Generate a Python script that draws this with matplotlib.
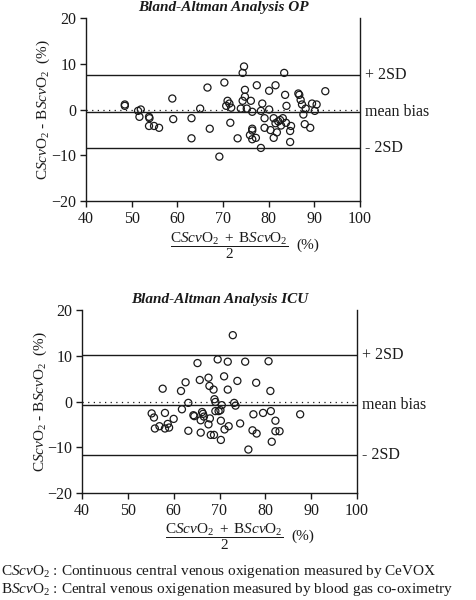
import matplotlib
matplotlib.use("Agg")
import matplotlib.pyplot as plt

plt.rcParams['font.family'] = ['Liberation Serif', 'DejaVu Serif']
plt.rcParams['mathtext.fontset'] = 'custom'
plt.rcParams['mathtext.rm'] = 'Liberation Serif'
plt.rcParams['mathtext.it'] = 'Liberation Serif:italic'
plt.rcParams['mathtext.bf'] = 'Liberation Serif:bold'

# ---- Data: OP ----
op_mean = [48.5, 48.5, 51.4, 52.0, 51.7, 53.8, 53.9, 53.8, 54.9, 56.0,
           58.9, 59.1, 63.1, 63.1, 65.0, 66.6, 67.1, 70.3, 69.2, 71.0,
           71.4, 70.7, 71.8, 71.6, 73.2, 73.9, 74.3, 74.6, 74.3, 74.8,
           74.8, 75.2, 76.1, 76.4, 76.4, 76.4, 75.9, 76.4, 77.2, 77.4,
           78.6, 78.3, 78.3, 79.1, 79.1, 80.1, 80.1, 80.4, 81.1, 81.1,
           81.5, 81.5, 81.8, 82.1, 82.5, 82.7, 83.1, 83.4, 83.6, 83.9,
           83.8, 84.7, 84.9, 84.7, 86.5, 86.7, 87.0, 87.3, 87.6, 87.9,
           88.1, 89.1, 89.5, 90.1, 90.5, 92.4]
op_diff = [1.1, 0.8, -0.3, 0.0, -1.6, -1.6, -1.9, -3.6, -3.6, -4.0,
           2.4, -2.1, -1.9, -6.3, 0.2, 4.8, -4.2, 5.9, -10.3, 1.9,
           1.3, 0.8, 0.4, -2.9, -6.3, 0.2, 1.9, 9.4, 8.0, 4.3,
           2.8, 0.2, 1.9, -0.5, -4.2, -4.6, -5.6, -6.5, -6.2, 5.3,
           1.3, -0.3, -8.4, -1.9, -4.0, 4.1, 0.0, -4.5, -1.9, -6.2,
           5.3, -3.0, -5.0, -2.6, -2.3, -3.5, -1.9, 8.0, 3.2, 0.8,
           -2.9, -4.7, -3.6, -7.1, 3.5, 3.2, 2.1, 1.1, -1.1, -3.2,
           0.2, -4.0, 1.3, -0.3, 1.1, 4.0]
op_lines = [7.5, -0.55, -8.4]

# ---- Data: ICU ----
icu_mean = [55.2, 55.7, 55.9, 56.9, 57.6, 58.1, 58.1, 58.7, 59.0, 60.0,
            61.6, 61.8, 62.6, 63.2, 63.2, 64.3, 64.5, 65.2, 65.7, 66.2,
            66.4, 65.9, 66.6, 65.9, 67.6, 67.8, 67.9, 67.6, 68.7, 68.9,
            69.1, 69.1, 68.1, 68.8, 69.6, 69.8, 70.2, 70.3, 70.3, 70.5,
            71.0, 71.1, 71.8, 71.8, 72.0, 72.9, 73.2, 73.5, 73.9, 74.5,
            75.6, 76.3, 77.2, 77.4, 78.0, 78.1, 79.5, 80.7, 81.1, 81.2,
            81.4, 82.2, 82.2, 83.1, 87.6]
icu_diff = [-2.6, -3.5, -5.9, -5.4, 2.8, -2.5, -5.9, -4.9, -5.7, -3.8,
            2.3, -1.7, 4.2, -0.3, -6.4, -3.0, -3.2, 8.4, 4.7, -2.3,
            -2.7, -4.1, -3.3, -6.8, 5.2, 3.4, -3.7, -5.0, 2.6, 0.5,
            -0.1, -2.1, -7.3, -7.3, 9.2, -2.1, -1.9, -4.2, -8.4, -0.8,
            5.5, -6.1, 8.7, 2.6, -5.4, 14.5, -0.3, -0.9, 4.5, -4.8,
            8.7, -10.5, -6.3, -2.8, 4.1, -7.0, -2.5, 8.8, 2.3, -2.1,
            -8.8, -4.2, -6.5, -6.5, -2.8]
icu_lines = [10.2, -0.8, -11.6]

line_labels = ['+ 2SD', 'mean bias', '- 2SD']
x_ticks = [40, 50, 60, 70, 80, 90, 100]
y_ticks = [-20, -10, 0, 10, 20]

W, H = 476, 600
fig = plt.figure(figsize=(W / 100, H / 100), dpi=100)
col = '#1a1a1a'

ylab = r'C$\mathit{Scv}$O$_2$ - B$\mathit{Scv}$O$_2$  (%)'
frac = r'$\dfrac{\mathrm{C}\mathit{Scv}\mathrm{O}_2\ +\ \mathrm{B}\mathit{Scv}\mathrm{O}_2}{2}$'


def panel(rect, xs, ys, lines, title, title_y, ylab_x, xlab_y, xlab_x):
    l, t, r, b = rect
    ax = fig.add_axes([l / W, 1 - b / H, (r - l) / W, (b - t) / H])
    ax.scatter(xs, ys, s=26, facecolors='none', edgecolors=col, linewidths=0.9, zorder=3)
    ax.axhline(0, color=col, lw=0.9, linestyle=(0, (1, 3.5)))
    for v, lab in zip(lines, line_labels):
        ax.axhline(v, color=col, lw=1.0)
        ax.text(1.02, v, lab, transform=ax.get_yaxis_transform(), va='center',
                ha='left', fontsize=11.5, color=col)
    ax.set_xlim(40, 100)
    ax.set_ylim(-20, 20)
    ax.set_xticks(x_ticks)
    ax.set_yticks(y_ticks)
    ax.spines['top'].set_visible(False)
    for s in ['left', 'bottom', 'right']:
        ax.spines[s].set_color(col)
        ax.spines[s].set_linewidth(1.0)
    ax.tick_params(direction='out', length=4, width=1.0, labelsize=11.5, colors=col,
                   pad=3)
    fig.text(((l + r) / 2) / W, 1 - title_y / H, title, ha='center', va='center',
             fontsize=11, fontweight='bold', fontstyle='italic', color=col)
    fig.text(ylab_x / W, 1 - ((t + b) / 2) / H, ylab, rotation=90, ha='center',
             va='center', fontsize=11, color=col)
    fig.text(xlab_x / W, 1 - xlab_y / H, frac, ha='center', va='center',
             fontsize=11, color=col)
    fig.text((xlab_x + 79) / W, 1 - (xlab_y - 1) / H, '(%)', ha='center',
             va='center', fontsize=11, color=col)
    return ax


panel((86, 18, 360, 201), op_mean, op_diff, op_lines,
      'Bland-Altman Analysis OP', 7, 43, 246, 229)
panel((82, 310, 357, 493), icu_mean, icu_diff, icu_lines,
      'Bland-Altman Analysis ICU', 299, 40, 537, 224)

fig.text(1 / W, 1 - 571 / H,
         r'C$\mathit{Scv}$O$_2$ : Continuous central venous oxigenation measured by CeVOX',
         ha='left', va='center', fontsize=11, color=col)
fig.text(1 / W, 1 - 589 / H,
         r'B$\mathit{Scv}$O$_2$ : Central venous oxigenation measured by blood gas co-oximetry',
         ha='left', va='center', fontsize=11, color=col)

fig.savefig('out.png', dpi=100, facecolor='white')
